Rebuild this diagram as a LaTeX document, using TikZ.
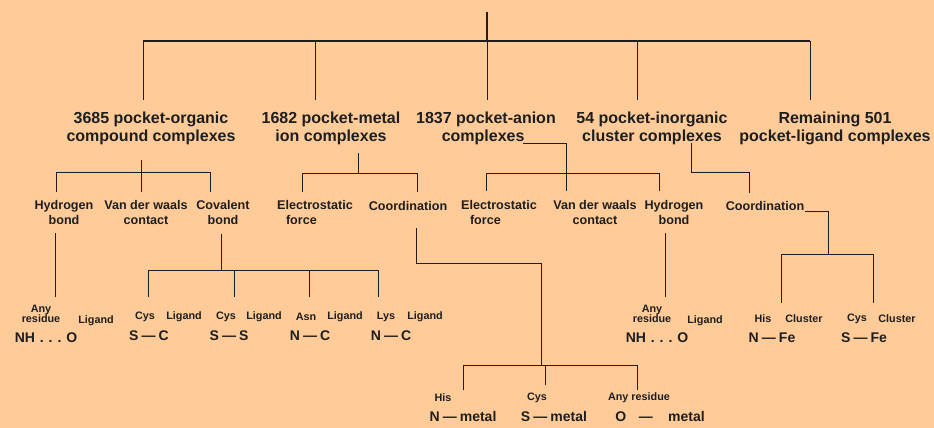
\documentclass[tikz,border=0pt]{standalone}
\usepackage{fontspec}
\setmainfont{Liberation Sans}
\definecolor{bg}{HTML}{FFCC99}
\definecolor{ink}{HTML}{1E1E1E}
\tikzset{
  big/.style={font=\bfseries\fontsize{16}{18}\selectfont, align=center, inner sep=0pt, text=ink},
  mid/.style={font=\bfseries\fontsize{12.6}{15}\selectfont, align=center, inner sep=0pt, text=ink},
  sml/.style={font=\bfseries\fontsize{10.8}{11}\selectfont, align=center, inner sep=0pt, text=ink},
  frm/.style={font=\bfseries\fontsize{14}{15}\selectfont, inner sep=0pt, text=ink},
  ln/.style={draw=ink, line width=0.9pt},
  thick ln/.style={draw=ink, line width=1.3pt},
}
\newcommand{\bnd}{\hspace{0.22em}—\hspace{0.22em}}
\newcommand{\dts}{\hspace{0.35em}.\hspace{0.35em}.\hspace{0.35em}.\hspace{0.35em}}
\begin{document}
\begin{tikzpicture}[x=1pt,y=-1pt]
\fill[bg] (0,0) rectangle (934,428);
\useasboundingbox (0,0) rectangle (934,428);

% ---- level 1 ----
\coordinate (root) at (487,12);
\coordinate (b1) at (143,41);
\coordinate (b2) at (315,41);
\coordinate (b3) at (487,41);
\coordinate (b4) at (637,41);
\coordinate (b5) at (810,41);
\node[big] (org) at (151,128) {3685 pocket-organic\\compound complexes};
\node[big] (met) at (331,128) {1682 pocket-metal\\ion complexes};
\node[big, align=left] (ani) at (486,128) {1837 pocket-anion\\\hspace*{1.6em}complexes};
\node[big] (ino) at (652,128) {54 pocket-inorganic\\cluster complexes};
\node[big] (rem) at (835,128) {Remaining 501\\pocket-ligand complexes};

\draw[thick ln] (root) -- (b3);
\draw[thick ln] (b1) -- (b5);
\draw[ln] (b1) -- (b1 |- 0,100);
\draw[ln] (b2) -- (b2 |- 0,100);
\draw[ln] (b3) -- (b3 |- 0,100);
\draw[ln] (b4) -- (b4 |- 0,100);
\draw[ln] (b5) -- (b5 |- 0,100);

% ---- level 2: organic ----
\coordinate (oj) at (141,160);
\coordinate (ob) at (141,172);
\node[mid] (ohb) at (64,212) {Hydrogen\\bond};
\node[mid] (ovdw) at (146,212) {Van der waals\\contact};
\node[mid] (ocov) at (223,212) {Covalent\\bond};
\draw[ln] (oj) -- (ob);
\draw[ln] (56,192) |- (210,172) -- (210,192);
\draw[ln] (ob) -- (141,192);

% ---- level 2: metal ----
\coordinate (mj) at (358,153);
\node[mid, align=left] (mes) at (315,212) {Electrostatic\\\hspace*{0.7em}force};
\node[mid] (mco) at (408,206) {Coordination};
\draw[ln] (mj) -- (358,173);
\draw[ln] (302,192) |- (417,173) -- (417,192);

% ---- level 2: anion ----
\coordinate (aj) at (523,143);
\node[mid, align=left] (aes) at (499,212) {Electrostatic\\\hspace*{0.7em}force};
\node[mid] (avdw) at (595,212) {Van der waals\\contact};
\node[mid] (ahb) at (674,212) {Hydrogen\\bond};
\draw[ln] (aj) -| (566,191);
\draw[ln] (486,191) |- (659,173) -- (659,191);

% ---- level 2: inorganic ----
\coordinate (ij) at (691,143);
\node[mid] (ico) at (765,206) {Coordination};
\draw[ln] (ij) |- (749,172) -- (749,193);

% ---- organic hydrogen bond ----
\coordinate (ohbj) at (55,233);
\draw[ln] (ohbj) -- (55,297);
\node[sml] (oany) at (41,314) {Any\\[-1.5pt]residue};
\node[sml] (olig) at (96,321) {Ligand};
\node[frm] (onh) at (46,338) {NH\dts O};

% ---- covalent ----
\coordinate (cj) at (221,234);
\draw[ln] (cj) -- (221,270);
\draw[ln] (148,297) |- (378,270) -- (378,297);
\draw[ln] (234,270) -- (234,297);
\draw[ln] (309,270) -- (309,297);
\node[sml] (c1a) at (145,317) {Cys};
\node[sml] (c1b) at (184,317) {Ligand};
\node[frm] (c1f) at (149,336) {S\bnd C};
\node[sml] (c2a) at (226,317) {Cys};
\node[sml] (c2b) at (264,317) {Ligand};
\node[frm] (c2f) at (229,336) {S\bnd S};
\node[sml] (c3a) at (306,317) {Asn};
\node[sml] (c3b) at (345,317) {Ligand};
\node[frm] (c3f) at (310,336) {N\bnd C};
\node[sml] (c4a) at (386,317) {Lys};
\node[sml] (c4b) at (425,317) {Ligand};
\node[frm] (c4f) at (391,336) {N\bnd C};

% ---- metal coordination ----
\coordinate (mcj) at (416,228);
\draw[ln] (mcj) -- (416,263) -| (541,365);
\draw[ln] (463,390) |- (637,365) -- (637,390);
\draw[ln] (545,365) -- (545,385);
\node[sml] (m1a) at (443,398) {His};
\node[frm] (m1f) at (463,416) {N\bnd metal};
\node[sml] (m2a) at (537,398) {Cys};
\node[frm] (m2f) at (554,416) {S\bnd metal};
\node[sml] (m3a) at (639,398) {Any residue};
\node[frm] (m3f) at (660,416) {O\hspace{0.9em}—\hspace{1.1em}metal};

% ---- anion hydrogen bond ----
\coordinate (ahbj) at (665,233);
\draw[ln] (ahbj) -- (665,297);
\node[sml] (aany) at (652,314) {Any\\[-1.5pt]residue};
\node[sml] (alig) at (705,321) {Ligand};
\node[frm] (anh) at (657,338) {NH\dts O};

% ---- inorganic coordination ----
\coordinate (icj) at (805,211);
\draw[ln] (icj) -| (828,254);
\draw[ln] (781,303) |- (873,254) -- (873,303);
\node[sml] (i1a) at (763,319) {His};
\node[sml] (i1b) at (804,319) {Cluster};
\node[frm] (i1f) at (772,338) {N\bnd Fe};
\node[sml] (i2a) at (857,319) {Cys};
\node[sml] (i2b) at (897,319) {Cluster};
\node[frm] (i2f) at (864,338) {S\bnd Fe};
\end{tikzpicture}
\end{document}
